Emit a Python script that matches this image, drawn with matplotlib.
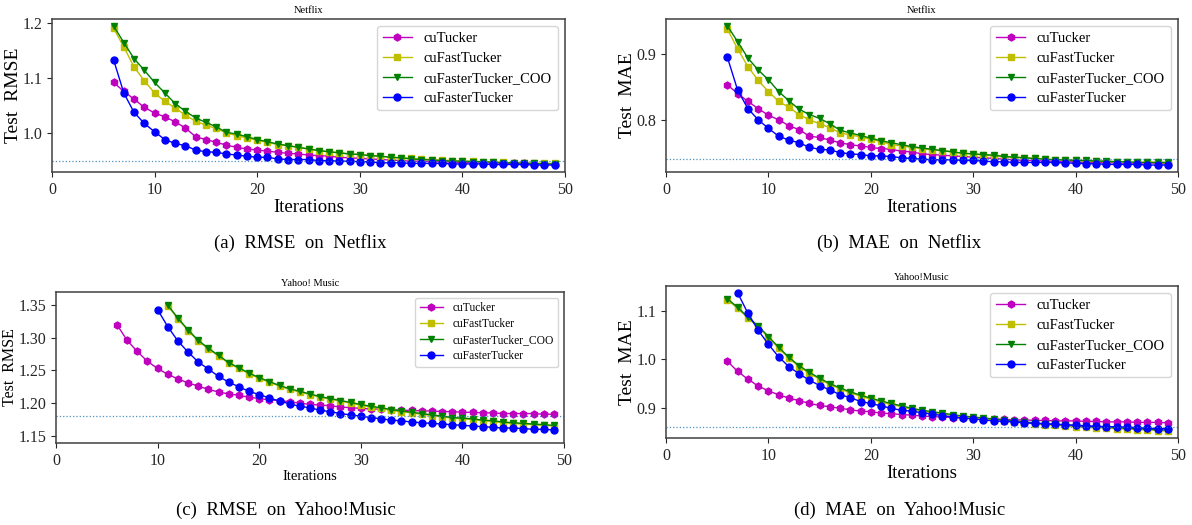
"""Four convergence panels: RMSE / MAE on Netflix and Yahoo!Music."""

import matplotlib
matplotlib.use("Agg")
import matplotlib.pyplot as plt
import numpy as np

plt.rcParams["font.family"] = ["Liberation Serif", "DejaVu Serif"]

LABELS = ["cuTucker", "cuFastTucker", "cuFasterTucker_COO", "cuFasterTucker"]
STYLES = [("m", "h"), ("y", "s"), ("g", "v"), ("b", "o")]

# (a) RMSE on Netflix, iterations 6..49
rmse_nf_tucker = [1.092, 1.076, 1.062, 1.047, 1.037, 1.030, 1.021, 1.010, 0.994, 0.989,
                  0.984, 0.979, 0.975, 0.972, 0.970, 0.968, 0.966, 0.964, 0.963, 0.961,
                  0.960, 0.959, 0.957, 0.956, 0.955, 0.954, 0.953, 0.952, 0.951, 0.950,
                  0.950, 0.949, 0.949, 0.948, 0.948, 0.947, 0.947, 0.947, 0.946, 0.946,
                  0.946, 0.945, 0.945, 0.945]
rmse_nf_fast = [1.190, 1.156, 1.120, 1.095, 1.073, 1.058, 1.046, 1.033, 1.022, 1.015,
                1.009, 1.001, 0.996, 0.992, 0.988, 0.984, 0.980, 0.978, 0.975, 0.972,
                0.969, 0.967, 0.965, 0.963, 0.962, 0.960, 0.959, 0.957, 0.956, 0.955,
                0.954, 0.953, 0.952, 0.951, 0.950, 0.950, 0.949, 0.949, 0.948, 0.947,
                0.947, 0.946, 0.946, 0.946]
rmse_nf_coo = [1.194, 1.164, 1.135, 1.114, 1.092, 1.073, 1.054, 1.040, 1.028, 1.020,
               1.012, 1.002, 0.999, 0.994, 0.989, 0.985, 0.981, 0.978, 0.975, 0.972,
               0.969, 0.967, 0.965, 0.963, 0.962, 0.960, 0.959, 0.957, 0.956, 0.954,
               0.953, 0.952, 0.951, 0.950, 0.950, 0.949, 0.949, 0.948, 0.947, 0.947,
               0.946, 0.946, 0.945, 0.945]
rmse_nf_faster = [1.133, 1.073, 1.038, 1.018, 1.003, 0.989, 0.982, 0.978, 0.970, 0.967,
                  0.966, 0.963, 0.961, 0.959, 0.957, 0.957, 0.954, 0.953, 0.953, 0.953,
                  0.951, 0.951, 0.950, 0.950, 0.949, 0.949, 0.947, 0.947, 0.947, 0.946,
                  0.946, 0.946, 0.946, 0.945, 0.945, 0.945, 0.945, 0.944, 0.944, 0.944,
                  0.944, 0.943, 0.943, 0.943]

# (b) MAE on Netflix, iterations 6..49
mae_nf_tucker = [0.853, 0.840, 0.828, 0.817, 0.807, 0.800, 0.791, 0.785, 0.775, 0.773,
                 0.769, 0.765, 0.762, 0.760, 0.758, 0.756, 0.755, 0.752, 0.751, 0.748,
                 0.747, 0.746, 0.745, 0.744, 0.743, 0.742, 0.741, 0.740, 0.739, 0.738,
                 0.738, 0.737, 0.737, 0.736, 0.736, 0.735, 0.735, 0.735, 0.734, 0.734,
                 0.734, 0.734, 0.734, 0.733]
mae_nf_fast = [0.938, 0.908, 0.881, 0.860, 0.843, 0.828, 0.819, 0.808, 0.800, 0.794,
               0.788, 0.780, 0.777, 0.774, 0.770, 0.767, 0.762, 0.760, 0.758, 0.756,
               0.754, 0.753, 0.751, 0.749, 0.748, 0.746, 0.745, 0.744, 0.743, 0.742,
               0.741, 0.740, 0.739, 0.738, 0.738, 0.737, 0.737, 0.736, 0.736, 0.735,
               0.735, 0.735, 0.735, 0.734]
mae_nf_coo = [0.943, 0.919, 0.894, 0.876, 0.861, 0.843, 0.829, 0.816, 0.808, 0.802,
              0.794, 0.784, 0.780, 0.776, 0.772, 0.768, 0.765, 0.762, 0.759, 0.757,
              0.755, 0.753, 0.751, 0.749, 0.748, 0.747, 0.746, 0.744, 0.743, 0.742,
              0.741, 0.740, 0.739, 0.739, 0.738, 0.738, 0.737, 0.737, 0.736, 0.736,
              0.735, 0.735, 0.735, 0.735]
mae_nf_faster = [0.895, 0.845, 0.817, 0.800, 0.787, 0.775, 0.769, 0.765, 0.758, 0.755,
                 0.754, 0.750, 0.748, 0.747, 0.745, 0.745, 0.744, 0.742, 0.741, 0.740,
                 0.739, 0.739, 0.739, 0.738, 0.738, 0.737, 0.736, 0.736, 0.735, 0.735,
                 0.735, 0.735, 0.735, 0.734, 0.734, 0.733, 0.733, 0.732, 0.732, 0.732,
                 0.732, 0.731, 0.731, 0.731]

# (c) RMSE on Yahoo!Music (curves start at different iterations)
rmse_ym_tucker = [1.320, 1.296, 1.279, 1.264, 1.253, 1.244, 1.237, 1.231, 1.226, 1.221,
                  1.217, 1.214, 1.212, 1.209, 1.207, 1.205, 1.204, 1.202, 1.200, 1.198,
                  1.197, 1.196, 1.194, 1.193, 1.192, 1.191, 1.191, 1.190, 1.189, 1.189,
                  1.188, 1.188, 1.187, 1.187, 1.186, 1.186, 1.185, 1.185, 1.184, 1.184,
                  1.184, 1.184, 1.183, 1.183]
rmse_ym_fast = [1.349, 1.329, 1.311, 1.295, 1.283, 1.272, 1.261, 1.253, 1.245, 1.238,
                1.232, 1.226, 1.221, 1.217, 1.213, 1.209, 1.206, 1.203, 1.200, 1.197,
                1.194, 1.192, 1.189, 1.187, 1.185, 1.183, 1.181, 1.179, 1.177, 1.176,
                1.175, 1.173, 1.172, 1.170, 1.169, 1.168, 1.167, 1.166, 1.165]
rmse_ym_coo = [1.350, 1.330, 1.312, 1.296, 1.284, 1.273, 1.262, 1.254, 1.246, 1.239,
               1.233, 1.227, 1.222, 1.218, 1.214, 1.210, 1.207, 1.204, 1.201, 1.198,
               1.195, 1.193, 1.190, 1.188, 1.186, 1.184, 1.182, 1.180, 1.178, 1.177,
               1.176, 1.174, 1.173, 1.171, 1.170, 1.169, 1.168, 1.167, 1.166]
rmse_ym_faster = [1.343, 1.317, 1.295, 1.278, 1.263, 1.252, 1.241, 1.232, 1.225, 1.218,
                  1.213, 1.208, 1.203, 1.199, 1.195, 1.193, 1.189, 1.187, 1.184, 1.182,
                  1.180, 1.178, 1.176, 1.174, 1.173, 1.171, 1.170, 1.169, 1.168, 1.167,
                  1.166, 1.165, 1.164, 1.163, 1.162, 1.162, 1.161, 1.160, 1.160, 1.159]

# (d) MAE on Yahoo!Music
mae_ym_tucker = [0.996, 0.975, 0.959, 0.945, 0.935, 0.927, 0.920, 0.915, 0.909, 0.905,
                 0.902, 0.899, 0.896, 0.893, 0.892, 0.889, 0.888, 0.886, 0.885, 0.883,
                 0.882, 0.881, 0.880, 0.879, 0.878, 0.877, 0.877, 0.876, 0.875, 0.875,
                 0.874, 0.874, 0.873, 0.873, 0.873, 0.872, 0.872, 0.871, 0.871, 0.871,
                 0.870, 0.870, 0.870, 0.869]
mae_ym_fast = [1.123, 1.105, 1.085, 1.067, 1.045, 1.023, 1.002, 0.985, 0.971, 0.959,
               0.948, 0.939, 0.931, 0.924, 0.918, 0.912, 0.907, 0.902, 0.897, 0.893,
               0.890, 0.887, 0.884, 0.881, 0.879, 0.877, 0.875, 0.873, 0.871, 0.869,
               0.867, 0.865, 0.864, 0.863, 0.861, 0.860, 0.859, 0.858, 0.857, 0.856,
               0.855, 0.854, 0.853, 0.852]
mae_ym_coo = [1.125, 1.107, 1.087, 1.069, 1.047, 1.025, 1.004, 0.987, 0.973, 0.961,
              0.950, 0.941, 0.933, 0.926, 0.920, 0.914, 0.909, 0.904, 0.899, 0.895,
              0.892, 0.889, 0.886, 0.883, 0.881, 0.879, 0.877, 0.875, 0.873, 0.871,
              0.869, 0.867, 0.866, 0.865, 0.863, 0.862, 0.861, 0.860, 0.859, 0.858,
              0.857, 0.856, 0.855, 0.854]
mae_ym_faster = [1.137, 1.095, 1.060, 1.031, 1.005, 0.985, 0.970, 0.957, 0.946, 0.937,
                 0.927, 0.921, 0.913, 0.909, 0.904, 0.899, 0.895, 0.893, 0.890, 0.887,
                 0.884, 0.881, 0.879, 0.877, 0.875, 0.873, 0.872, 0.871, 0.869, 0.868,
                 0.867, 0.866, 0.865, 0.864, 0.863, 0.862, 0.861, 0.861, 0.860, 0.859,
                 0.858, 0.857, 0.857]

# first iteration of each series, last one is always 49
start_a = [6, 6, 6, 6]
start_b = [6, 6, 6, 6]
start_c = [6, 11, 11, 10]
start_d = [6, 6, 6, 7]

ref_lines = [0.95, 0.74, 1.18, 0.86]

yticks_a = [1.0, 1.1, 1.2]
yticks_b = [0.8, 0.9]
yticks_c = [1.15, 1.20, 1.25, 1.30, 1.35]
yticks_d = [0.9, 1.0, 1.1]

W, H = 1192, 525


def _rect(left, top, right, bottom):
    return [left / W, 1 - bottom / H, (right - left) / W, (bottom - top) / H]


def _panel(fig, rect, series, starts, title, ylabel, ref, yticks, caption, cap_x, cap_y,
           small=False, ylim=None):
    ax = fig.add_axes(rect)
    for vals, st, lab, (c, m) in zip(series, starts, LABELS, STYLES):
        x = np.arange(st, st + len(vals))
        ax.plot(x, vals, color=c, marker=m, markersize=5, linewidth=1.0, label=lab)
    ax.axhline(ref, color="#1f77b4", linestyle=":", linewidth=0.9, alpha=0.8)
    ax.set_xlim(0, 50)
    ax.set_xticks([0, 10, 20, 30, 40, 50])
    if ylim is not None:
        ax.set_ylim(*ylim)
    ax.set_yticks(yticks)
    if small:
        ax.set_yticklabels([f"{v:.2f}" for v in yticks])
    for s in ax.spines.values():
        s.set_color("0.25")
        s.set_linewidth(1.1)
    ax.tick_params(labelsize=11.5, colors="0.15", length=3.5)
    ax.set_title(title, fontsize=7.5, pad=4)
    ax.set_xlabel("Iterations", fontsize=10.5 if small else 13.5, labelpad=1)
    ax.set_ylabel(ylabel, fontsize=11.5 if small else 14, labelpad=0)
    ax.legend(loc="upper right", fontsize=8.3 if small else 10.5,
              handlelength=2.0, borderaxespad=0.5,
              labelspacing=0.35 if small else 0.45)
    fig.text(cap_x / W, 1 - cap_y / H, caption, ha="center", va="center",
             fontsize=13.5)
    return ax


def main() -> None:
    fig = plt.figure(figsize=(W / 100, H / 100), dpi=100)

    _panel(fig, _rect(52, 19, 565, 172),
           [rmse_nf_tucker, rmse_nf_fast, rmse_nf_coo, rmse_nf_faster], start_a,
           "Netflix", "Test  RMSE", ref_lines[0], yticks_a,
           "(a)  RMSE  on  Netflix", 300, 243)
    _panel(fig, _rect(666, 19, 1178, 172),
           [mae_nf_tucker, mae_nf_fast, mae_nf_coo, mae_nf_faster], start_b,
           "Netflix", "Test  MAE", ref_lines[1], yticks_b,
           "(b)  MAE  on  Netflix", 899, 243)
    _panel(fig, _rect(56, 292, 564, 443),
           [rmse_ym_tucker, rmse_ym_fast, rmse_ym_coo, rmse_ym_faster], start_c,
           "Yahoo! Music", "Test  RMSE", ref_lines[2], yticks_c,
           "(c)  RMSE  on  Yahoo!Music", 286, 510, small=True, ylim=(1.139, 1.370))
    _panel(fig, _rect(666, 286, 1178, 438),
           [mae_ym_tucker, mae_ym_fast, mae_ym_coo, mae_ym_faster], start_d,
           "Yahoo!Music", "Test  MAE", ref_lines[3], yticks_d,
           "(d)  MAE  on  Yahoo!Music", 900, 510)

    fig.savefig("out.png", dpi=100)
    plt.close(fig)


if __name__ == "__main__":
    main()
